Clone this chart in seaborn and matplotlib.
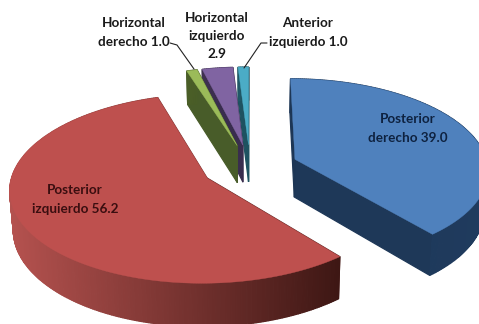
import numpy as np
import matplotlib
matplotlib.use("Agg")
import matplotlib.pyplot as plt
from matplotlib.colors import to_rgb
from matplotlib.patches import Polygon
import seaborn as sns

# Porcentaje por cuadrante
categories = ["Posterior derecho", "Posterior izquierdo", "Horizontal derecho",
              "Horizontal izquierdo", "Anterior izquierdo"]
values = [39.0, 56.2, 1.0, 2.9, 1.0]

top_colors = ["#4F81BD", "#BE504E", "#9BBB59", "#8064A2", "#4BACC6"]
wall_light = ["#1F3B5E", "#B5524F", "#4A5E27", "#3F3151", "#215968"]
wall_dark = ["#1D3655", "#3E1714", "#46592A", "#33284A", "#1B4A57"]

sns.set_theme(style="white")
plt.rcParams["font.family"] = ["Lato", "DejaVu Sans"]

fig = plt.figure(figsize=(4.79, 3.24), dpi=100)
ax = fig.add_axes([0, 0, 1, 1])

wedges, _ = ax.pie(values, explode=[0.25] * len(values), startangle=90,
                   counterclock=False, frame=False)
slices = [(w.center, w.theta1, w.theta2, w.r) for w in wedges]
for w in wedges:
    w.remove()

ax.set_aspect("auto")
ax.set_xlim(0, 479)
ax.set_ylim(324, 0)
ax.axis("off")

# Proyección en perspectiva del plano de la tarta a píxeles
CX, CY, SX, SY, PERSP, DEPTH = 250, 167, 193, 91, 0.11, 38


def project(u, v, lowered=False):
    s = 1 / (1 + PERSP * v)
    if lowered:
        s2 = s * 0.985
        return CX + SX * u * s2, CY - SY * v * s + DEPTH * s
    return CX + SX * u * s, CY - SY * v * s


def outline(center, t1, t2, r):
    t = np.radians(np.linspace(t1, t2, max(int((t2 - t1) * 1.5), 6)))
    u = np.r_[center[0], center[0] + r * np.cos(t)]
    v = np.r_[center[1], center[1] + r * np.sin(t)]
    return u, v


def mix(a, b, f):
    a, b = np.array(to_rgb(a)), np.array(to_rgb(b))
    return tuple(a + (b - a) * f)


# Se pintan de atrás hacia delante: anterior, horizontales y luego los grandes
for i in [4, 3, 2, 0, 1]:
    center, t1, t2, r = slices[i]
    u, v = outline(center, t1, t2, r)
    x, y = project(u, v)
    xb, yb = project(u, v, lowered=True)
    n = len(x)
    x_min, x_max = x.min(), x.max()
    # Caras de los cortes primero, después el borde curvo en orden
    order = [0, n - 1] + list(range(1, n - 1))
    for j in order:
        k = (j + 1) % n
        f = ((x[j] + x[k]) / 2 - x_min) / max(x_max - x_min, 1)
        if i == 0:
            f = 1 - f
        pts = [(x[j], y[j]), (x[k], y[k]), (xb[k], yb[k]), (xb[j], yb[j])]
        col = mix(wall_light[i], wall_dark[i], f)
        ax.add_patch(Polygon(pts, closed=True, facecolor=col, edgecolor=col,
                             linewidth=0.9, zorder=2 + 0.01 * (5 - i)))
    ax.add_patch(Polygon(np.c_[x, y], closed=True, facecolor=top_colors[i],
                         edgecolor=top_colors[i], linewidth=0.3,
                         zorder=2.2 + 0.01 * (5 - i)))

# Rótulos
label_style = dict(ha="center", va="center", fontweight="bold", fontsize=9.7,
                   linespacing=1.62, zorder=5)
ax.text(408, 128.5, f"Posterior\nderecho {values[0]:.1f}", color="#0E2240", **label_style)
ax.text(75, 199.5, f"Posterior\nizquierdo {values[1]:.1f}", color="#3A0E10", **label_style)
ax.text(134, 32.5, f"Horizontal\nderecho {values[2]:.1f}", color="#1A1A1A", **label_style)
ax.text(217, 36, f"Horizontal\nizquierdo\n{values[3]:.1f}", color="#1A1A1A", **label_style)
ax.text(308, 32.5, f"Anterior\nizquierdo {values[4]:.1f}", color="#1A1A1A", **label_style)

# Líneas guía de las porciones pequeñas
ax.plot([170, 177, 194], [43, 45, 69], color="#222222", lw=0.8, zorder=4)
ax.plot([267, 261, 244], [43, 43, 68], color="#222222", lw=0.8, zorder=4)

fig.savefig("out.png", dpi=100)
